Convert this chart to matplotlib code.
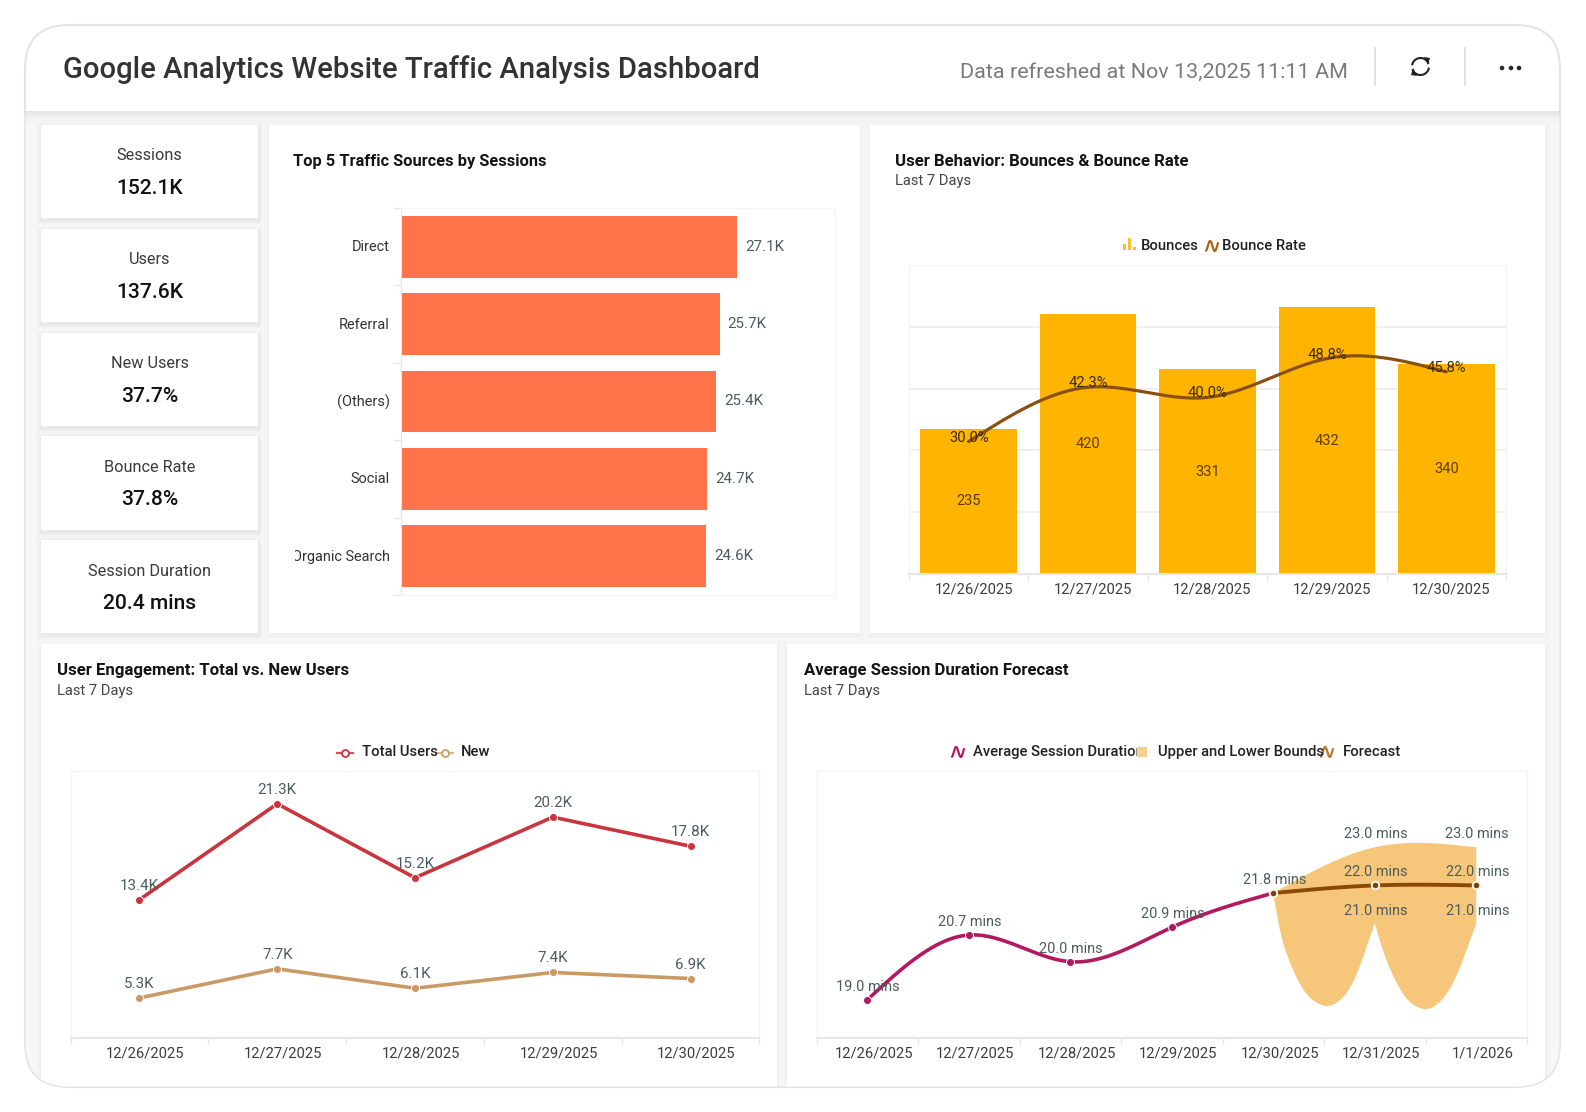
import numpy as np
import matplotlib
matplotlib.use("Agg")
import matplotlib.pyplot as plt
from matplotlib.patches import FancyBboxPatch, Rectangle, Polygon, Circle
from matplotlib.transforms import Bbox, ScaledTranslation

W, H = 1586, 1112
plt.rcParams["font.family"] = ["Roboto", "DejaVu Sans"]

kpi_names = ["Sessions", "Users", "New Users", "Bounce Rate", "Session Duration"]
kpi_values = ["152.1K", "137.6K", "37.7%", "37.8%", "20.4 mins"]

sources = ["Direct", "Referral", "(Others)", "Social", "Organic Search"]
source_sessions = [27.1, 25.7, 25.4, 24.7, 24.6]

bounce_dates = ["12/26/2025", "12/27/2025", "12/28/2025", "12/29/2025", "12/30/2025"]
bounces = [235, 420, 331, 432, 340]
bounce_rate = [30.0, 42.3, 40.0, 48.8, 45.8]

total_users = [13.4, 21.3, 15.2, 20.2, 17.8]
new_users = [5.3, 7.7, 6.1, 7.4, 6.9]

forecast_dates = bounce_dates + ["12/31/2025", "1/1/2026"]
avg_duration = [19.0, 20.7, 20.0, 20.9, 21.8]
forecast = [21.8, 22.0, 22.0]
upper_bound = [21.8, 23.0, 23.0]
lower_label = [21.0, 21.0]
# lower edge of the band, two sagging arcs between the forecast days
lower_days_a = [4.0, 4.06, 4.155, 4.28, 4.42, 4.53, 4.68, 4.81, 4.92, 5.0]
lower_mins_a = [21.8, 20.91, 20.05, 19.34, 18.94, 18.84, 19.05, 19.6, 20.39, 21.0]
lower_days_b = [5.0, 5.07, 5.17, 5.31, 5.44, 5.5, 5.63, 5.8, 5.93, 6.0]
lower_mins_b = [21.0, 20.39, 19.7, 19.05, 18.79, 18.76, 18.92, 19.6, 20.49, 21.0]

GREY_TXT = "#4d5c5c"
TICK_TXT = "#3c3c3c"
LINE_GREY = "#e6e6e6"


def px_axes(l, t, r, b, z=2):
	ax = fig.add_axes([l / W, 1 - b / H, (r - l) / W, (b - t) / H], zorder=z)
	ax.patch.set_alpha(0)
	return ax


def px(s):
	# font size in points for a height given in pixels
	return s * 72 / 100


def smooth(xs, ys, n=200):
	# natural cubic spline through the given points
	xs, ys = np.asarray(xs, float), np.asarray(ys, float)
	m = len(xs)
	h = np.diff(xs)
	A = np.zeros((m, m))
	r = np.zeros(m)
	A[0, 0] = A[-1, -1] = 1
	for i in range(1, m - 1):
		A[i, i - 1], A[i, i], A[i, i + 1] = h[i - 1], 2 * (h[i - 1] + h[i]), h[i]
		r[i] = 6 * ((ys[i + 1] - ys[i]) / h[i] - (ys[i] - ys[i - 1]) / h[i - 1])
	M = np.linalg.solve(A, r)
	out_x = np.linspace(xs[0], xs[-1], n)
	k = np.clip(np.searchsorted(xs, out_x) - 1, 0, m - 2)
	a, b = xs[k + 1] - out_x, out_x - xs[k]
	hk = h[k]
	out_y = (M[k] * a ** 3 + M[k + 1] * b ** 3) / (6 * hk) + (ys[k] / hk - M[k] * hk / 6) * a + (ys[k + 1] / hk - M[k + 1] * hk / 6) * b
	return out_x, out_y


def rounded(l, t, r, b, rad, **kw):
	return FancyBboxPatch((l + rad, t + rad), r - l - 2 * rad, b - t - 2 * rad, boxstyle="round,pad=%f,rounding_size=%f" % (rad, rad), **kw)


def card(l, t, r, b, strength=1.0):
	for grow, alpha in [(5, 0.012), (3, 0.018), (1.5, 0.025)]:
		s = Rectangle((l - grow, t - grow + 2), r - l + 2 * grow, b - t + 2 * grow, fc="black", alpha=alpha * strength, lw=0)
		bg.add_patch(s)
		s.set_clip_path(clip)
	c = Rectangle((l, t), r - l, b - t, fc="white", lw=0)
	bg.add_patch(c)
	c.set_clip_path(clip)


def style_axes(ax, nbands):
	for side in ["top", "right", "left"]:
		ax.spines[side].set_color("#f4f4f4")
		ax.spines[side].set_linewidth(1)
	ax.spines["bottom"].set_color(LINE_GREY)
	ax.spines["bottom"].set_linewidth(1.5)
	ax.set_yticks([])
	ax.set_xlim(-0.5, nbands - 0.5)
	ax.set_xticks(np.arange(nbands + 1) - 0.5, minor=True)
	ax.tick_params(axis="x", which="minor", length=4, width=1, color=LINE_GREY)
	ax.tick_params(axis="x", which="major", length=0, pad=6, labelsize=px(14.8), labelcolor=TICK_TXT)


def date_ticks(ax, labels, off=5):
	ax.set_xticks(range(len(labels)))
	ax.set_xticklabels(labels)
	# the date labels sit a little right of the band centres
	shift = ScaledTranslation(off / 100, 0, fig.dpi_scale_trans)
	for lab in ax.get_xticklabels():
		lab.set_transform(lab.get_transform() + shift)


def wave(x0, x1, yc, color):
	t = np.linspace(0, 1, 40)
	bg.plot(x0 + (x1 - x0) * t, yc - 5 * np.sin(2 * np.pi * (t * 1.3 - 0.2)), color=color, lw=1.6, solid_capstyle="round")


def legend_text(x, y, s, clip_to=None):
	t = bg.text(x, y, s, fontsize=px(14.8), fontweight="medium", color="#222222", ha="left", va="center")
	if clip_to:
		t.set_clip_box(Bbox([[x - 2, H - y - 12], [clip_to, H - y + 12]]))
		t.set_clip_on(True)


def chart_title(x, y, title, sub=None, size=16.7):
	bg.text(x, y, title, fontsize=px(size), fontweight="bold", color="#141414", ha="left", va="center")
	if sub:
		bg.text(x, y + 20, sub, fontsize=px(14.8), color="#444444", ha="left", va="center")


fig = plt.figure(figsize=(W / 100, H / 100), dpi=100, facecolor="white")
bg = fig.add_axes([0, 0, 1, 1], zorder=1)
bg.set_xlim(0, W)
bg.set_ylim(H, 0)
bg.axis("off")

# outer frame, everything below is clipped to its rounded corners
frame = rounded(25, 25, 1560, 1087, 44, fc="white", ec="#e4e4e4", lw=1.5, zorder=0.5)
bg.add_patch(frame)
clip = rounded(25.5, 25.5, 1559.5, 1086.5, 44, transform=bg.transData)

body = Rectangle((25, 111), 1535, 976, fc="#f7f7f7", lw=0)
bg.add_patch(body)
body.set_clip_path(clip)
for i, alpha in enumerate([0.07, 0.05, 0.035, 0.025, 0.015, 0.01]):
	sh = Rectangle((25, 111 + i * 2), 1535, 2, fc="black", alpha=alpha, lw=0)
	bg.add_patch(sh)

# header
bg.text(63, 70, "Google Analytics Website Traffic Analysis Dashboard", fontsize=px(29.3), fontweight="medium", color="#333333", ha="left", va="center")
bg.text(1348, 72.5, "Data refreshed at Nov 13,2025 11:11 AM", fontsize=px(21.5), color="#7a7a7a", ha="right", va="center")
for x in [1375, 1465]:
	bg.plot([x, x], [48, 85], color="#dddddd", lw=1.2)
ang = np.radians(np.linspace(195, 335, 30))
bg.plot(1420.5 + 8.5 * np.cos(ang), 66.5 + 8.5 * np.sin(ang), color="#222222", lw=1.5)
ang = np.radians(np.linspace(15, 155, 30))
bg.plot(1420.5 + 8.5 * np.cos(ang), 66.5 + 8.5 * np.sin(ang), color="#222222", lw=1.5)
bg.add_patch(Polygon([[1424, 57], [1430, 58], [1428, 65]], fc="#222222", lw=0))
bg.add_patch(Polygon([[1417, 76], [1411, 75], [1413, 68]], fc="#222222", lw=0))
for x in [1502, 1511, 1519]:
	bg.add_patch(Circle((x, 68), 2.3, fc="#2a2a2a", lw=0))

# KPI tiles
kpi_tops = [125, 229, 333, 436, 540]
kpi_bottoms = [218, 322, 426, 530, 633]
for name, val, t, b in zip(kpi_names, kpi_values, kpi_tops, kpi_bottoms):
	card(41, t, 258, b)
	bg.text(149.5, t + 31, name, fontsize=px(16.3), color="#3a3a3a", ha="center", va="center")
	bg.text(149.5, t + 63.5, val, fontsize=px(21), fontweight="medium", color="#111111", ha="center", va="center")

card(269, 125, 860, 633, 0.5)
card(870, 125, 1545, 633, 0.5)
card(41, 644, 777, 1090, 0.5)
card(787, 644, 1545, 1090, 0.5)

chart_title(293, 161.5, "Top 5 Traffic Sources by Sessions", size=16.4)
chart_title(895, 161.5, "User Behavior: Bounces & Bounce Rate", "Last 7 Days")
chart_title(57, 671, "User Engagement: Total vs. New Users", "Last 7 Days")
chart_title(804, 671, "Average Session Duration Forecast", "Last 7 Days")

# traffic sources
ax = px_axes(401, 208, 835, 595)
pos = np.arange(len(sources))
ax.barh(pos, source_sessions, height=0.8, color="#ff734a")
ax.set_xlim(0, 35)
ax.set_ylim(len(sources) - 0.5, -0.5)
ax.set_xticks([])
for side in ["top", "right", "bottom"]:
	ax.spines[side].set_color("#f4f4f4")
ax.spines["left"].set_color(LINE_GREY)
ax.set_yticks(pos)
ax.set_yticklabels(sources)
ax.set_yticks(np.arange(len(sources) + 1) - 0.5, minor=True)
ax.tick_params(axis="y", which="minor", length=6, width=1, color=LINE_GREY)
ax.tick_params(axis="y", which="major", length=0, pad=8.2, labelsize=px(14.5), labelcolor="#333333")
lift = ScaledTranslation(0, 1 / 100, fig.dpi_scale_trans)
for lab in ax.get_yticklabels():
	lab.set_transform(lab.get_transform() + lift)
	if lab.get_text() == "Organic Search":
		# the long label runs into the edge of the plot area and gets cut
		lab.set_clip_box(Bbox([[295, 0], [401, H]]))
		lab.set_clip_on(True)
for p, v in zip(pos, source_sessions):
	ax.annotate("%.1fK" % v, (v, p), xytext=(8, 0), textcoords="offset pixels", fontsize=px(15.1), color=GREY_TXT, ha="left", va="center")

# bounces and bounce rate
ax = px_axes(909, 265, 1506, 574)
style_axes(ax, len(bounces))
ax.bar(range(len(bounces)), bounces, width=0.81, color="#ffb400", zorder=2)
ax.set_ylim(0, 500)
ax.set_yticks([100, 200, 300, 400])
ax.set_yticklabels([])
ax.tick_params(axis="y", length=0)
ax.grid(axis="y", color="#ececec", lw=1.2, zorder=0)
ax.set_axisbelow(True)
date_ticks(ax, bounce_dates)
for i, v in enumerate(bounces):
	ax.text(i, v / 2, str(v), fontsize=px(14.6), color="#5b3d05", ha="center", va="center", zorder=6)
ax2 = ax.twinx()
ax2.set_ylim(0, 70)
ax2.set_yticks([])
for spine in ax2.spines.values():
	spine.set_visible(False)
sx, sy = smooth(range(len(bounce_rate)), bounce_rate)
ax2.plot(sx, sy, color="#8c4f12", lw=2.3, zorder=3, solid_capstyle="round")
for i, v in enumerate(bounce_rate):
	ax2.annotate("%.1f%%" % v, (i, v), xytext=(0, 4), textcoords="offset pixels", fontsize=px(14.8), color="#3b2a08", ha="center", va="center", zorder=6)

# legend for the bounces chart
for x, h_ in [(1124.5, 6), (1129.5, 12), (1134.5, 3)]:
	bg.add_patch(Rectangle((x - 1.8, 250 - h_), 3.6, h_, fc="#f7c034", lw=0))
legend_text(1141, 246, "Bounces")
wave(1206, 1218, 246, "#a9641a")
legend_text(1222, 246, "Bounce Rate")

# total and new users
ax = px_axes(70.6, 771, 759.4, 1038)
style_axes(ax, len(total_users))
ax.set_ylim(2, 24)
date_ticks(ax, bounce_dates, off=6)
for series, color in [(total_users, "#c9353f"), (new_users, "#c99a66")]:
	ax.plot(range(len(series)), series, color=color, lw=2.6, marker="o", ms=5.8, mec="white", mew=0.7, zorder=3)
	for i, v in enumerate(series):
		ax.annotate("%.1fK" % v, (i, v), xytext=(0, 14), textcoords="offset pixels", fontsize=px(15.1), color=GREY_TXT, ha="center", va="center", zorder=5)

bg.plot([337, 353], [753, 753], color="#d8535c", lw=1.6)
bg.plot([345], [753], marker="o", ms=5, mfc="white", mec="#c9353f", mew=1.3)
legend_text(362, 752, "Total Users")
bg.plot([437, 453], [753, 753], color="#d9b48a", lw=1.6)
bg.plot([445], [753], marker="o", ms=5, mfc="white", mec="#c99a66", mew=1.3)
legend_text(461, 752, "New")

# session duration with forecast band
ax = px_axes(816.5, 771, 1527, 1038)
style_axes(ax, len(forecast_dates))
ax.set_ylim(18, 25)
date_ticks(ax, forecast_dates, off=6.5)
fc_days = [4, 5, 6]
ux, uy = smooth(fc_days, upper_bound)
ax_, ay_ = smooth(lower_days_a, lower_mins_a, 100)
bx_, by_ = smooth(lower_days_b, lower_mins_b, 100)
lx = np.concatenate([ax_, bx_])
ly = np.concatenate([ay_, by_])
ax.fill(np.concatenate([ux, lx[::-1]]), np.concatenate([uy, ly[::-1]]), color="#f6c67a", lw=0, zorder=2)
sx, sy = smooth(range(len(avg_duration)), avg_duration)
ax.plot(sx, sy, color="#b3195e", lw=2.6, zorder=3)
ax.plot(range(len(avg_duration) - 1), avg_duration[:-1], ls="", marker="o", ms=5.8, color="#b3195e", mec="white", mew=0.7, zorder=4)
sx, sy = smooth(fc_days, forecast)
ax.plot(sx, sy, color="#8a4b08", lw=2.8, zorder=3)
ax.plot(fc_days, forecast, ls="", marker="o", ms=5.4, color="#70441a", mec="#fff4e0", mew=1.4, zorder=4)
for i, v in enumerate(avg_duration):
	ax.annotate("%.1f mins" % v, (i, v), xytext=(1, 13), textcoords="offset pixels", fontsize=px(14.5), color=GREY_TXT, ha="center", va="center", zorder=5)
for d, up, mid, low in zip(fc_days[1:], upper_bound[1:], forecast[1:], lower_label):
	for v in (up, mid, low):
		ax.annotate("%.1f mins" % v, (d, v), xytext=(1, 13), textcoords="offset pixels", fontsize=px(14.5), color=GREY_TXT, ha="center", va="center", zorder=5)

wave(952, 964, 752, "#b3195e")
legend_text(973, 752, "Average Session Duration", clip_to=1137)
bg.add_patch(Rectangle((1137, 747), 10, 10, fc="#f6cf91", lw=0))
legend_text(1158, 752, "Upper and Lower Bounds")
wave(1321, 1333, 752, "#b9772a")
legend_text(1343, 752, "Forecast")

fig.savefig("out.png", dpi=100, facecolor="white")
